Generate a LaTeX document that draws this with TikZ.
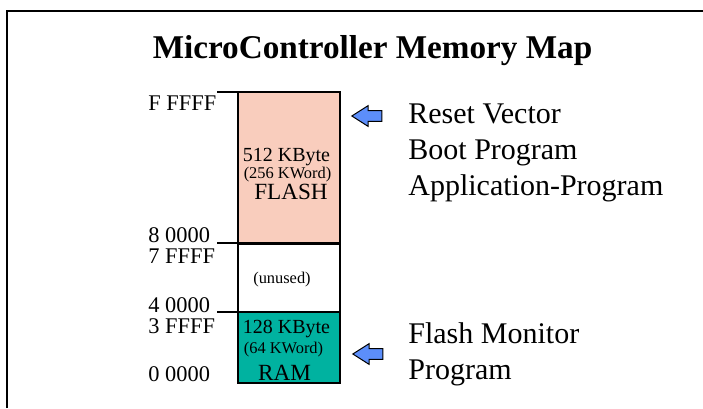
\documentclass[tikz,border=0pt]{standalone}
\usepackage{fontspec}
\setmainfont{Liberation Serif}
\usepackage{xcolor}
\usetikzlibrary{positioning,calc,shapes.arrows}

\definecolor{flashfill}{RGB}{249,205,189}
\definecolor{ramfill}{RGB}{0,178,160}
\definecolor{ptrblue}{RGB}{92,142,250}

\begin{document}
\begin{tikzpicture}[
    x=0.5pt, y=-0.5pt,
    % Style definitions
    mem/.style={rectangle, draw, line width=1pt, minimum width=51pt, inner sep=0pt, outer sep=0pt},
    addr/.style={anchor=base west, inner sep=0pt, font=\fontsize{11.2}{13}\selectfont},
    big/.style={anchor=base, inner sep=0pt, font=\fontsize{10}{12}\selectfont},
    small/.style={anchor=base, inner sep=0pt, font=\fontsize{8.2}{10}\selectfont},
    kind/.style={anchor=base, inner sep=0pt, font=\fontsize{11.6}{14}\selectfont},
    note/.style={anchor=north west, inner sep=0pt, align=left, font=\fontsize{15}{18}\selectfont},
    pointer/.style={single arrow, draw, line width=0.5pt, fill=ptrblue, shape border rotate=180,
        minimum height=15pt, minimum width=9.5pt, single arrow head extend=2.5pt,
        single arrow tip angle=65, inner xsep=0pt, inner ysep=2.4pt},
    tick/.style={line width=0.7pt},
    title/.style={anchor=base, inner sep=0pt, font=\fontsize{16.6}{20}\selectfont\bfseries}
]
\useasboundingbox (0,0) rectangle (703,408);

% Frame
\draw[line width=1pt] (7,408) |- (703,11);

% Title
\node[title] (title) at (372.5,58) {MicroController Memory Map};

% Memory blocks
\node[mem, fill=flashfill, minimum height=75.5pt, anchor=north west] (flash) at (238,92) {};
\node[mem, fill=white, minimum height=34.5pt, below=0pt of flash] (unused) {};
\node[mem, fill=ramfill, minimum height=35.5pt, below=0pt of unused] (ram) {};
\draw[line width=1.5pt] (flash.south west) -- (flash.south east);

% Block texts
\node[big] (flashsize) at (286.5,161) {512 KByte};
\node[small] (flashword) at (287.5,178) {(256 KWord)};
\node[kind] (flashname) at (291,199) {FLASH};
\node[small] (unusedtxt) at (282,283) {(unused)};
\node[big] (ramsize) at (286.5,333) {128 KByte};
\node[small] (ramword) at (283.5,353) {(64 KWord)};
\node[kind] (ramname) at (284.5,380.5) {RAM};

% Address ticks
\coordinate[left=10.5pt of flash.north west] (tickF);
\coordinate[left=10.5pt of flash.south west] (tick8);
\coordinate[left=10.5pt of unused.south west] (tick4);
\draw[tick] (flash.north west) -- (tickF);
\draw[tick] (flash.south west) -- (tick8);
\draw[tick] (unused.south west) -- (tick4);

% Addresses
\node[addr] (aFFFFF) at (148,110) {F FFFF};
\node[addr] (a80000) at (148,242) {8 0000};
\node[addr] (a7FFFF) at (148,263) {7 FFFF};
\node[addr] (a40000) at (148,312) {4 0000};
\node[addr] (a3FFFF) at (148,333) {3 FFFF};
\node[addr] (a00000) at (148,381) {0 0000};

% Pointers and notes
\node[pointer] (resetptr) at (371,116) {};
\node[pointer] (monptr) at (372,354) {};
\node[note] (resetnote) at (408,103) {Reset Vector\\Boot Program\\Application-Program};
\node[note] (monnote) at (408,322) {Flash Monitor\\Program};

\end{tikzpicture}
\end{document}
